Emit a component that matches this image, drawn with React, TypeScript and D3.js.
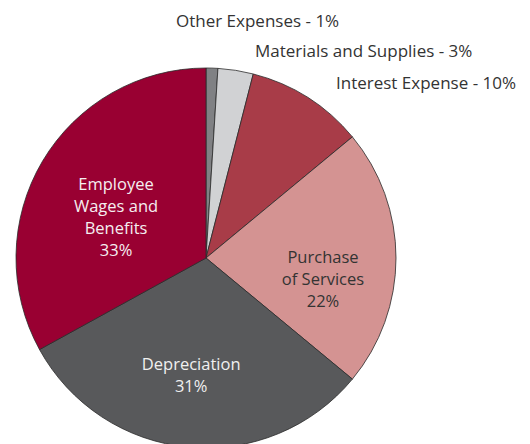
import React from "react";
import * as d3 from "d3";

const categories = [
  "Other Expenses",
  "Materials and Supplies",
  "Interest Expense",
  "Purchase of Services",
  "Depreciation",
  "Employee Wages and Benefits",
];
const values = [1, 3, 10, 22, 31, 33];
const colors = ["#808184", "#d1d2d4", "#a83c48", "#d49392", "#58595b", "#990032"];

// inner labels (lines), text colour and nudges relative to arc centroid
const innerLines: (string[] | null)[] = [
  null,
  null,
  null,
  ["Purchase", "of Services", "22%"],
  ["Depreciation", "31%"],
  ["Employee", "Wages and", "Benefits", "33%"],
];
const innerColor = ["", "", "", "#333333", "#f0f0f0", "#f5eef0"];
const innerNudge: [number, number][] = [
  [0, 0], [0, 0], [0, 0],
  [2, 20],
  [-4, 1.5],
  [9, 17],
];

// outer labels
const outerLabels = ["Other Expenses - 1%", "Materials and Supplies - 3%", "Interest Expense - 10%"];
const outerX = [176, 255, 336];
const outerY = [20, 50, 82];

const W = 530;
const H = 444;
const cx = 206;
const cy = 258;
const R = 190;

export default function App() {
  const pie = d3.pie<number>().sort(null).value((d) => d)(values);
  const arc = d3.arc<d3.PieArcDatum<number>>().innerRadius(0).outerRadius(R);
  const labelArc = d3.arc<d3.PieArcDatum<number>>().innerRadius(115).outerRadius(115);
  const lh = 22;
  const fs = 16.5;
  const fsOuter = 17;
  const font = "'Open Sans', sans-serif";
  return (
    <div style={{ position: "fixed", left: 0, top: 0, width: W, height: H, overflow: "hidden", background: "#fff" }}>
      <svg width={W} height={H} style={{ display: "block" }}>
        <g transform={`translate(${cx},${cy})`}>
          {pie.map((p, i) => (
            <path key={categories[i]} d={arc(p) || ""} fill={colors[i]} stroke="#2a2a2a" strokeWidth={0.8} />
          ))}
          {pie.map((p, i) => {
            const lines = innerLines[i];
            if (!lines) return null;
            const [x, y] = labelArc.centroid(p);
            const x0 = x + innerNudge[i][0];
            const y0 = y + innerNudge[i][1] - ((lines.length - 1) * lh) / 2;
            return (
              <text key={"l" + i} x={x0} y={y0} textAnchor="middle" fill={innerColor[i]}
                fontFamily={font} fontSize={fs} dominantBaseline="central">
                {lines.map((t, j) => (
                  <tspan key={j} x={x0} y={y0 + j * lh}>{t}</tspan>
                ))}
              </text>
            );
          })}
        </g>
        {outerLabels.map((t, i) => (
          <text key={t} x={outerX[i]} y={outerY[i]} fill="#333333" fontFamily={font} fontSize={fsOuter}
            dominantBaseline="central">{t}</text>
        ))}
      </svg>
    </div>
  );
}
